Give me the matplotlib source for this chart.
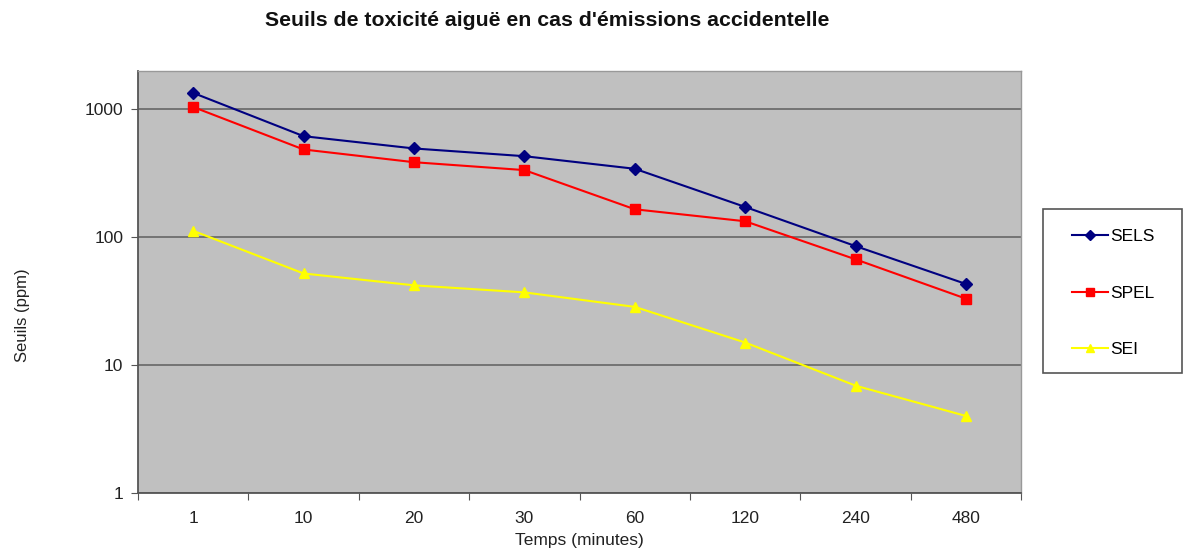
import matplotlib.pyplot as plt
from matplotlib.patches import Rectangle
from matplotlib.ticker import FixedLocator, NullLocator, FixedFormatter

plt.rcParams['font.family'] = ['Liberation Sans', 'DejaVu Sans']

# Data
temps = ["1", "10", "20", "30", "60", "120", "240", "480"]
sels = [1340, 615, 493, 429, 342, 172, 85, 43]
spel = [1040, 484, 385, 334, 165, 133, 67, 33]
sei = [112, 52, 42, 37, 28.5, 15, 6.9, 4]

W, H = 1189, 554
fig = plt.figure(figsize=(W / 100, H / 100), dpi=100)
ax = fig.add_axes([0.116, 0.110, 0.743, 0.762])
ax.set_facecolor("#c0c0c0")

x = list(range(len(temps)))
l1, = ax.plot(x, sels, color="#000080", marker="D", markersize=6, lw=1.5, label="SELS")
l2, = ax.plot(x, spel, color="#ff0000", marker="s", markersize=7, lw=1.5, label="SPEL")
l3, = ax.plot(x, sei, color="#ffff00", marker="^", markersize=7, lw=1.5, label="SEI")

ax.set_yscale("log")
ax.set_ylim(1, 1990)
ax.set_xlim(-0.5, len(temps) - 0.5)
ax.yaxis.set_major_locator(FixedLocator([1, 10, 100, 1000]))
ax.yaxis.set_major_formatter(FixedFormatter(["1", "10", "100", "1000"]))
ax.yaxis.set_minor_locator(NullLocator())
ax.grid(axis="y", color="#6e6e6e", lw=1.3)
ax.set_axisbelow(True)

# x ticks between categories, labels centred
ax.set_xticks([i - 0.5 for i in range(len(temps) + 1)])
ax.set_xticklabels([])
ax.set_xticks(x, minor=True)
ax.set_xticklabels(temps, minor=True)
ax.tick_params(axis="x", which="minor", length=0, pad=13, labelsize=12.5, colors="#222222")
ax.tick_params(axis="x", which="major", length=5, color="#555555")
ax.tick_params(axis="y", length=5, pad=5.5, color="#555555", labelsize=12.5, labelcolor="#222222")

for s in ["left", "bottom"]:
    ax.spines[s].set_color("#555555")
    ax.spines[s].set_linewidth(1.3)
for s in ["top", "right"]:
    ax.spines[s].set_color("#999999")
    ax.spines[s].set_linewidth(1.0)

ax.set_xlabel("Temps (minutes)", fontsize=12.5, color="#222222", labelpad=5)
ax.set_ylabel("Seuils (ppm)", fontsize=12, color="#222222")
ax.yaxis.set_label_coords(-0.122, 0.422)
fig.text(0.460, 1 - 20 / H, "Seuils de toxicité aiguë en cas d'émissions accidentelle",
         ha="center", va="center", fontsize=15.3, fontweight="bold", color="#111111")

# legend box drawn separately so the padding can match
fig.patches.append(Rectangle((1043 / W, 1 - 373 / H), (1182 - 1043) / W, (373 - 209) / H,
                             transform=fig.transFigure, fill=False,
                             edgecolor="#555555", lw=1.2))
fig.legend(handles=[l1, l2, l3], loc="upper left",
           bbox_to_anchor=(1072 / W, 1 - 229 / H), fontsize=12.5,
           frameon=False, labelspacing=2.38, borderpad=0, handlelength=2.1,
           handletextpad=0.1, markerscale=0.8, borderaxespad=0)

fig.savefig("out.png", dpi=100)
